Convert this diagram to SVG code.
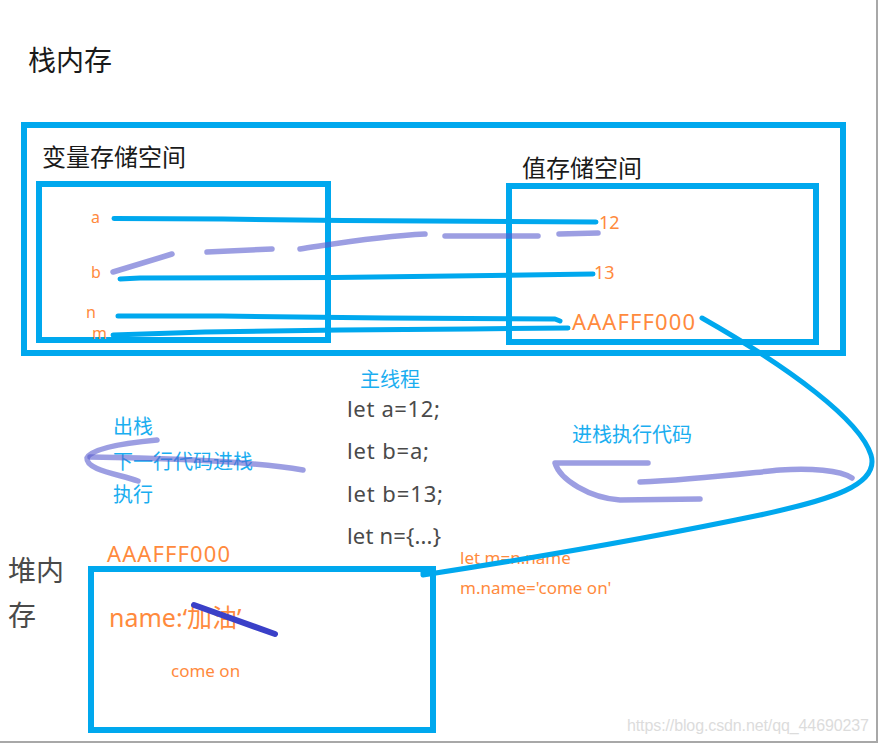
<svg xmlns="http://www.w3.org/2000/svg" width="879" height="745" viewBox="0 0 879 745">
<style>
  .box{fill:none;stroke:#00A8EE;stroke-width:6}
  .wire{fill:none;stroke:#00A8EE;stroke-width:5;stroke-linecap:round;stroke-linejoin:round}
  .scrib{fill:none;stroke:#5A5ECF;stroke-opacity:0.6;stroke-width:5.5;stroke-linecap:round;stroke-linejoin:round}
  .t{font-family:"Noto Sans","Noto Sans CJK SC",sans-serif}
  .blk{fill:#1a1a1a}
  .gray{fill:#4a4a4a}
  .org{fill:#FF8A3D}
  .cy{fill:#1AAEF0}
</style>
<rect width="879" height="745" fill="#ffffff"/>
<line x1="877" y1="0" x2="877" y2="743" stroke="#a8a8a8" stroke-width="2"/>
<line x1="0" y1="742" x2="878" y2="742" stroke="#a8a8a8" stroke-width="2"/>

<g id="stack-memory">
  <text class="t blk" x="28" y="71" font-size="28">栈内存</text>
  <rect class="box" x="24" y="125" width="819" height="228"/>
</g>

<g id="variable-space">
  <text class="t blk" x="42" y="166" font-size="24">变量存储空间</text>
  <rect class="box" x="39" y="184" width="289" height="156"/>
  <text class="t org" x="91" y="223" font-size="16">a</text>
  <text class="t org" x="91" y="278" font-size="16">b</text>
  <text class="t org" x="86" y="318" font-size="16">n</text>
  <text class="t org" x="92" y="339" font-size="16">m</text>
</g>

<g id="value-space">
  <text class="t blk" x="522" y="177" font-size="24">值存储空间</text>
  <rect class="box" x="509" y="186" width="307" height="156"/>
  <text class="t org" x="599" y="229" font-size="18">12</text>
  <text class="t org" x="594" y="279" font-size="18">13</text>
  <text class="t org" x="572" y="330" font-size="22" textLength="123">AAAFFF000</text>
</g>

<g id="main-thread">
  <text class="t cy" x="360" y="387" font-size="20">主线程</text>
  <text class="t gray" x="347" y="417" font-size="22" textLength="93">let a=12;</text>
  <text class="t gray" x="347" y="459" font-size="22" textLength="82">let b=a;</text>
  <text class="t gray" x="347" y="502" font-size="22" textLength="96">let b=13;</text>
  <text class="t gray" x="347" y="544" font-size="22" textLength="94">let n={...}</text>
</g>

<g id="pop-label">
  <text class="t cy" x="113" y="434" font-size="20">出栈</text>
  <text class="t cy" x="113" y="469" font-size="20">下一行代码进栈</text>
  <text class="t cy" x="113" y="502" font-size="20">执行</text>
</g>

<g id="push-label">
  <text class="t cy" x="572" y="442" font-size="20">进栈执行代码</text>
</g>

<g id="heap-memory">
  <text class="t gray" x="8" y="581" font-size="28">堆内</text>
  <text class="t gray" x="8" y="626" font-size="28">存</text>
  <text class="t org" x="107" y="562" font-size="22" textLength="123">AAAFFF000</text>
  <rect class="box" x="91" y="569" width="342" height="161"/>
  <text class="t org" x="109" y="627" font-size="25">name:‘加油’</text>
  <line x1="194" y1="605" x2="275" y2="634" stroke="#3A40C8" stroke-width="6" stroke-linecap="round"/>
  <text class="t org" x="171" y="677" font-size="17">come on</text>
</g>

<g id="heap-code">
  <text class="t org" x="460" y="564" font-size="17">let m=n.name</text>
  <text class="t org" x="460" y="594" font-size="17">m.name='come on'</text>
</g>

<g id="connectors">
  <polyline class="wire" points="114,218.5 223,219 343,220.5 596,222"/>
  <polyline class="wire" points="120,279 140,278 335,277.5 593,274"/>
  <polyline class="wire" points="118,316 222,316 385,318 555,319 560,321"/>
  <polyline class="wire" points="113,335 205,332 340,330 470,329 568,328"/>
  <path class="wire" d="M702,318 C790,368 860,420 871,455 C880,485 830,500 760,515 C650,538 520,560 423,575 L423,572"/>
  <path class="scrib" d="M113,272 L172,254"/>
  <path class="scrib" d="M207,252 L272,249"/>
  <path class="scrib" d="M300,249 C340,243 380,236 425,234"/>
  <path class="scrib" d="M445,236 L538,236"/>
  <path class="scrib" d="M559,234 L598,233"/>
  <path class="scrib" d="M157,440 C125,443 92,448 87,458 C86,470 118,474 138,481"/>
  <path class="scrib" d="M90,457 C160,458 250,461 303,470"/>
  <path class="scrib" d="M648,463 L555,463 C560,480 590,498 620,500 L700,499"/>
  <path class="scrib" d="M640,482 C690,480 740,474 780,470 C810,468 840,470 852,478"/>
</g>

<g id="watermark">
  <text x="627" y="731" font-family="Liberation Sans, sans-serif" font-size="16" fill="#dcdcdc" textLength="242">https://blog.csdn.net/qq_44690237</text>
</g>
</svg>
